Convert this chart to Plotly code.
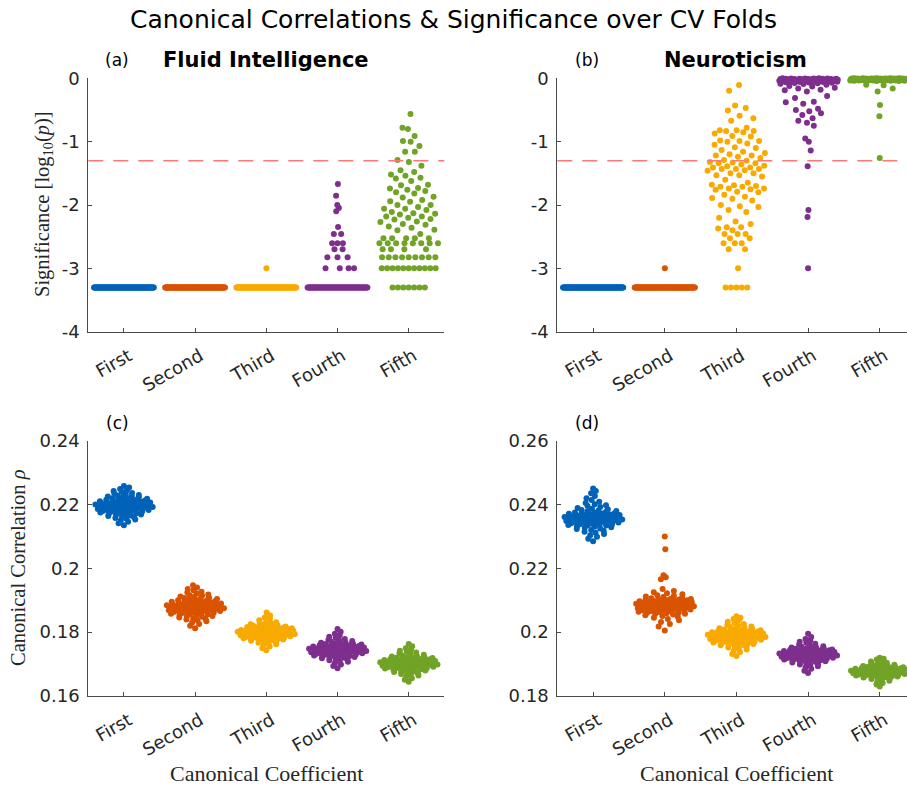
import numpy as np
import plotly.graph_objects as go

# ---------------- data ----------------
CATEGORIES = ["First", "Second", "Third", "Fourth", "Fifth"]
COLORS = ["#0062B8", "#D95300", "#F9AA00", "#7E2F8E", "#70A326"]
SIGNIF_ALPHA = 0.05
FLOOR = -3.301  # log10 of smallest attainable permutation p-value

# (a) Fluid Intelligence: log10(p) per CV fold
FI_LOGP_FIRST = [FLOOR] * 100
FI_LOGP_SECOND = [FLOOR] * 100
FI_LOGP_THIRD = [-3.0] + [FLOOR] * 99
FI_LOGP_FOURTH = [-1.668, -1.854, -2.0, -2.046, -2.097, -2.347, -2.456, -2.456,
                  -2.602, -2.602, -2.602, -2.699, -2.699, -2.824, -2.824, -2.824,
                  -3.0, -3.0, -3.0, -3.0] + [FLOOR] * 80
FI_LOGP_FIFTH = [-0.563, -0.78, -0.80, -0.91, -0.99, -1.0, -1.07, -1.16, -1.16, -1.29,
                 -1.32, -1.38, -1.45, -1.48, -1.52, -1.54, -1.57, -1.58, -1.62, -1.68,
                 -1.69, -1.73, -1.74, -1.76, -1.78, -1.80, -1.82, -1.87, -1.88, -1.92,
                 -1.94, -1.95, -2.0, -2.0, -2.03, -2.06, -2.06, -2.08, -2.11, -2.13,
                 -2.14, -2.15, -2.18, -2.18, -2.2, -2.22, -2.23, -2.26, -2.27, -2.3,
                 -2.31, -2.34, -2.36, -2.39, -2.4, -2.456] \
    + [-2.523] * 5 + [-2.602] * 8 + [-2.699] * 4 + [-2.824] * 9 + [-3.0] * 11 + [FLOOR] * 7

# (b) Neuroticism: log10(p) per CV fold
NE_LOGP_FIRST = [FLOOR] * 100
NE_LOGP_SECOND = [-3.0] + [FLOOR] * 99
NE_LOGP_THIRD = [-0.105, -0.195, -0.43, -0.47, -0.51, -0.59, -0.63, -0.67, -0.78, -0.82,
                 -0.82, -0.83, -0.83, -0.85, -0.87, -0.91, -0.92, -0.98, -0.99, -0.99,
                 -1.0, -1.03, -1.05, -1.09, -1.1, -1.13, -1.16, -1.18, -1.2, -1.22,
                 -1.22, -1.24, -1.26, -1.29, -1.3, -1.32, -1.33, -1.34, -1.34, -1.36,
                 -1.38, -1.39, -1.41, -1.41, -1.43, -1.43, -1.43, -1.45, -1.46, -1.5,
                 -1.5, -1.53, -1.53, -1.55, -1.6, -1.65, -1.68, -1.69, -1.7, -1.71,
                 -1.71, -1.74, -1.74, -1.75, -1.76, -1.79, -1.8, -1.84, -1.87, -1.89,
                 -1.9, -1.93, -2.0, -2.02, -2.03, -2.08, -2.11, -2.2, -2.26, -2.3,
                 -2.35, -2.35, -2.37, -2.398, -2.456, -2.456, -2.456, -2.523, -2.523, -2.602,
                 -2.602, -2.602, -2.699, -2.699, -3.0, FLOOR, FLOOR, FLOOR, FLOOR, FLOOR]
NE_LOGP_FOURTH = [-0.000, -0.002, -0.004, -0.005, -0.006, -0.008, -0.009, -0.010, -0.011, -0.012,
                  -0.013, -0.014, -0.015, -0.016, -0.017, -0.018, -0.019, -0.020, -0.021, -0.022,
                  -0.023, -0.024, -0.025, -0.026, -0.027, -0.028, -0.029, -0.030, -0.031, -0.032,
                  -0.033, -0.034, -0.035, -0.036, -0.037, -0.038, -0.039, -0.040, -0.041, -0.042,
                  -0.043, -0.044, -0.045, -0.046, -0.047, -0.049, -0.051, -0.053, -0.055, -0.057,
                  -0.060, -0.063, -0.066, -0.070, -0.075, -0.080, -0.085, -0.090, -0.001, -0.003,
                  -0.007, -0.012, -0.018, -0.024, -0.031, -0.038, -0.044, -0.052, -0.015, -0.027,
                  -0.035,
                  -0.10, -0.12, -0.13, -0.15, -0.16, -0.18, -0.19, -0.21, -0.28, -0.31,
                  -0.37, -0.38, -0.40, -0.48, -0.50, -0.52, -0.55, -0.58, -0.63, -0.67,
                  -0.70, -0.75, -0.95, -1.0, -1.14, -1.39, -2.08, -2.19, -3.0]
NE_LOGP_FIFTH = [-0.000, -0.001, -0.002, -0.003, -0.004, -0.005, -0.006, -0.007, -0.008, -0.009,
                 -0.010, -0.011, -0.012, -0.013, -0.014, -0.015, -0.016, -0.017, -0.018, -0.019,
                 -0.020, -0.021, -0.022, -0.023, -0.024, -0.025, -0.026, -0.027, -0.028, -0.029,
                 -0.030, -0.031, -0.032, -0.033, -0.034, -0.035, -0.036, -0.037, -0.038, -0.039,
                 -0.040, -0.042, -0.044, -0.001, -0.003, -0.005, -0.007, -0.009, -0.011, -0.013,
                 -0.015, -0.017, -0.019, -0.021, -0.023, -0.025, -0.027, -0.029, -0.031, -0.033,
                 -0.002, -0.004, -0.006, -0.008, -0.010, -0.012, -0.014, -0.016, -0.018, -0.020,
                 -0.022, -0.024, -0.026, -0.028, -0.000, -0.003, -0.006, -0.009, -0.012, -0.015,
                 -0.018, -0.021, -0.024, -0.001, -0.004, -0.007, -0.010, -0.013, -0.016, -0.002,
                 -0.005, -0.008, -0.011,
                 -0.10, -0.11, -0.16, -0.21, -0.42, -0.60, -1.26]

# (c) Fluid Intelligence: canonical correlation per CV fold
FI_RHO_FIRST = [0.2135, 0.2141, 0.2146, 0.2150, 0.2153, 0.2156, 0.2158, 0.2160, 0.2162, 0.2164,
                0.2166, 0.2167, 0.2169, 0.2170, 0.2171, 0.2173, 0.2174, 0.2175, 0.2176, 0.2177,
                0.2178, 0.2179, 0.2180, 0.2181, 0.2182, 0.2183, 0.2183, 0.2184, 0.2185, 0.2186,
                0.2186, 0.2187, 0.2188, 0.2189, 0.2189, 0.2190, 0.2191, 0.2191, 0.2192, 0.2193,
                0.2193, 0.2194, 0.2195, 0.2195, 0.2196, 0.2196, 0.2197, 0.2198, 0.2198, 0.2199,
                0.2200, 0.2200, 0.2201, 0.2202, 0.2202, 0.2203, 0.2204, 0.2204, 0.2205, 0.2206,
                0.2207, 0.2207, 0.2208, 0.2209, 0.2210, 0.2211, 0.2212, 0.2213, 0.2214, 0.2215,
                0.2216, 0.2217, 0.2218, 0.2219, 0.2220, 0.2222, 0.2223, 0.2225, 0.2226, 0.2228,
                0.2230, 0.2232, 0.2234, 0.2236, 0.2239, 0.2242, 0.2245, 0.2249, 0.2253, 0.2258]
FI_RHO_SECOND = [0.1812, 0.1820, 0.1826, 0.1830, 0.1834, 0.1837, 0.1840, 0.1842, 0.1844, 0.1846,
                 0.1848, 0.1850, 0.1851, 0.1853, 0.1854, 0.1856, 0.1857, 0.1858, 0.1859, 0.1860,
                 0.1861, 0.1862, 0.1863, 0.1864, 0.1865, 0.1866, 0.1866, 0.1867, 0.1868, 0.1869,
                 0.1869, 0.1870, 0.1871, 0.1872, 0.1872, 0.1873, 0.1874, 0.1874, 0.1875, 0.1876,
                 0.1876, 0.1877, 0.1878, 0.1878, 0.1879, 0.1880, 0.1880, 0.1881, 0.1882, 0.1882,
                 0.1883, 0.1884, 0.1884, 0.1885, 0.1886, 0.1887, 0.1887, 0.1888, 0.1889, 0.1890,
                 0.1891, 0.1892, 0.1893, 0.1894, 0.1895, 0.1896, 0.1897, 0.1898, 0.1899, 0.1900,
                 0.1901, 0.1902, 0.1904, 0.1905, 0.1907, 0.1908, 0.1910, 0.1912, 0.1914, 0.1916,
                 0.1918, 0.1921, 0.1924, 0.1927, 0.1931, 0.1935, 0.1940, 0.1947]
FI_RHO_THIRD = [0.1743, 0.1750, 0.1755, 0.1759, 0.1762, 0.1765, 0.1767, 0.1769, 0.1771, 0.1773,
                0.1775, 0.1776, 0.1778, 0.1779, 0.1780, 0.1781, 0.1782, 0.1783, 0.1784, 0.1785,
                0.1786, 0.1787, 0.1788, 0.1788, 0.1789, 0.1790, 0.1790, 0.1791, 0.1792, 0.1792,
                0.1793, 0.1794, 0.1794, 0.1795, 0.1795, 0.1796, 0.1797, 0.1797, 0.1798, 0.1798,
                0.1799, 0.1800, 0.1800, 0.1801, 0.1801, 0.1802, 0.1803, 0.1803, 0.1804, 0.1805,
                0.1805, 0.1806, 0.1807, 0.1807, 0.1808, 0.1809, 0.1810, 0.1810, 0.1811, 0.1812,
                0.1813, 0.1814, 0.1815, 0.1816, 0.1817, 0.1818, 0.1819, 0.1820, 0.1822, 0.1823,
                0.1825, 0.1827, 0.1829, 0.1831, 0.1834, 0.1837, 0.1841, 0.1846, 0.1852, 0.1862,
                0.1791, 0.1796, 0.1799, 0.1802, 0.1804, 0.1806, 0.1808, 0.1811, 0.1787, 0.1784,
                0.1779, 0.1813, 0.1817, 0.1777, 0.1794]
FI_RHO_FOURTH = [0.1687, 0.1694, 0.1699, 0.1703, 0.1707, 0.1710, 0.1712, 0.1714, 0.1716, 0.1718,
                 0.1720, 0.1721, 0.1723, 0.1724, 0.1725, 0.1727, 0.1728, 0.1729, 0.1730, 0.1731,
                 0.1732, 0.1733, 0.1734, 0.1735, 0.1735, 0.1736, 0.1737, 0.1738, 0.1738, 0.1739,
                 0.1740, 0.1740, 0.1741, 0.1742, 0.1742, 0.1743, 0.1744, 0.1744, 0.1745, 0.1746,
                 0.1746, 0.1747, 0.1748, 0.1748, 0.1749, 0.1750, 0.1751, 0.1751, 0.1752, 0.1753,
                 0.1754, 0.1754, 0.1755, 0.1756, 0.1757, 0.1758, 0.1759, 0.1760, 0.1761, 0.1762,
                 0.1763, 0.1764, 0.1765, 0.1767, 0.1768, 0.1770, 0.1772, 0.1774, 0.1776, 0.1779,
                 0.1782, 0.1786, 0.1790, 0.1795, 0.1801, 0.1810, 0.1733, 0.1741, 0.1745, 0.1750,
                 0.1726, 0.1738, 0.1747, 0.1753, 0.1757, 0.1736, 0.1743, 0.1749, 0.1722, 0.1760]
FI_RHO_FIFTH = [0.1645, 0.1651, 0.1656, 0.1660, 0.1664, 0.1667, 0.1669, 0.1671, 0.1673, 0.1675,
                0.1677, 0.1678, 0.1680, 0.1681, 0.1683, 0.1684, 0.1685, 0.1686, 0.1687, 0.1688,
                0.1689, 0.1690, 0.1691, 0.1692, 0.1693, 0.1694, 0.1694, 0.1695, 0.1696, 0.1697,
                0.1697, 0.1698, 0.1699, 0.1699, 0.1700, 0.1701, 0.1701, 0.1702, 0.1703, 0.1703,
                0.1704, 0.1705, 0.1705, 0.1706, 0.1707, 0.1707, 0.1708, 0.1709, 0.1710, 0.1710,
                0.1711, 0.1712, 0.1713, 0.1714, 0.1715, 0.1716, 0.1717, 0.1718, 0.1719, 0.1720,
                0.1721, 0.1722, 0.1724, 0.1725, 0.1727, 0.1729, 0.1731, 0.1733, 0.1736, 0.1739,
                0.1742, 0.1746, 0.1750, 0.1756, 0.1763, 0.1693, 0.1700, 0.1704, 0.1708, 0.1712,
                0.1690, 0.1698, 0.1702, 0.1706, 0.1716, 0.1686, 0.1696, 0.1709, 0.1714, 0.1719]

# (d) Neuroticism: canonical correlation per CV fold
NE_RHO_FIRST = [0.2285, 0.2293, 0.2299, 0.2304, 0.2308, 0.2312, 0.2315, 0.2318, 0.2320, 0.2323,
                0.2325, 0.2327, 0.2329, 0.2331, 0.2332, 0.2334, 0.2335, 0.2337, 0.2338, 0.2339,
                0.2341, 0.2342, 0.2343, 0.2344, 0.2345, 0.2346, 0.2347, 0.2348, 0.2349, 0.2350,
                0.2350, 0.2351, 0.2352, 0.2353, 0.2354, 0.2354, 0.2355, 0.2356, 0.2357, 0.2357,
                0.2358, 0.2359, 0.2360, 0.2360, 0.2361, 0.2362, 0.2363, 0.2364, 0.2364, 0.2365,
                0.2366, 0.2367, 0.2368, 0.2369, 0.2370, 0.2371, 0.2372, 0.2373, 0.2374, 0.2375,
                0.2377, 0.2378, 0.2380, 0.2381, 0.2383, 0.2385, 0.2387, 0.2389, 0.2392, 0.2395,
                0.2398, 0.2401, 0.2405, 0.2409, 0.2414, 0.2420, 0.2427, 0.2435, 0.2442, 0.2450,
                0.2340, 0.2346, 0.2352, 0.2356, 0.2359, 0.2363, 0.2368, 0.2336, 0.2372, 0.2348]
NE_RHO_SECOND = [0.2005, 0.2018, 0.2026, 0.2032, 0.2037, 0.2041, 0.2045, 0.2048, 0.2051, 0.2053,
                 0.2055, 0.2057, 0.2059, 0.2061, 0.2062, 0.2064, 0.2065, 0.2067, 0.2068, 0.2069,
                 0.2070, 0.2072, 0.2073, 0.2074, 0.2075, 0.2076, 0.2077, 0.2078, 0.2079, 0.2080,
                 0.2081, 0.2082, 0.2082, 0.2083, 0.2084, 0.2085, 0.2086, 0.2087, 0.2087, 0.2088,
                 0.2089, 0.2090, 0.2091, 0.2091, 0.2092, 0.2093, 0.2094, 0.2095, 0.2096, 0.2097,
                 0.2098, 0.2099, 0.2100, 0.2101, 0.2102, 0.2104, 0.2105, 0.2106, 0.2108, 0.2110,
                 0.2112, 0.2114, 0.2116, 0.2119, 0.2122, 0.2125, 0.2129, 0.2135, 0.2166, 0.2172,
                 0.2178, 0.2260, 0.2300, 0.2071, 0.2079, 0.2086, 0.2093, 0.2066, 0.2084, 0.2097,
                 0.2063, 0.2075, 0.2089, 0.2101, 0.2058, 0.2081, 0.2094, 0.2070, 0.2088, 0.2103]
NE_RHO_THIRD = [0.1925, 0.1932, 0.1938, 0.1942, 0.1946, 0.1949, 0.1952, 0.1955, 0.1957, 0.1959,
                0.1961, 0.1963, 0.1965, 0.1966, 0.1968, 0.1969, 0.1971, 0.1972, 0.1973, 0.1975,
                0.1976, 0.1977, 0.1978, 0.1979, 0.1980, 0.1981, 0.1982, 0.1983, 0.1984, 0.1985,
                0.1985, 0.1986, 0.1987, 0.1988, 0.1988, 0.1989, 0.1990, 0.1991, 0.1991, 0.1992,
                0.1993, 0.1994, 0.1995, 0.1996, 0.1997, 0.1998, 0.1999, 0.2000, 0.2001, 0.2002,
                0.2003, 0.2004, 0.2006, 0.2007, 0.2009, 0.2010, 0.2012, 0.2014, 0.2016, 0.2018,
                0.2020, 0.2023, 0.2026, 0.2029, 0.2033, 0.2037, 0.2041, 0.2045, 0.2050, 0.1974,
                0.1983, 0.1990, 0.1996, 0.2001, 0.1970, 0.1986, 0.1993, 0.2005, 0.1964, 0.1979,
                0.1989, 0.1998, 0.2008, 0.1960, 0.1981, 0.1992, 0.2003, 0.1967, 0.1977, 0.1994]
NE_RHO_FOURTH = [0.1872, 0.1879, 0.1885, 0.1889, 0.1893, 0.1896, 0.1899, 0.1901, 0.1903, 0.1905,
                 0.1907, 0.1909, 0.1910, 0.1912, 0.1913, 0.1914, 0.1916, 0.1917, 0.1918, 0.1919,
                 0.1920, 0.1921, 0.1922, 0.1923, 0.1924, 0.1925, 0.1926, 0.1927, 0.1927, 0.1928,
                 0.1929, 0.1930, 0.1930, 0.1931, 0.1932, 0.1933, 0.1933, 0.1934, 0.1935, 0.1936,
                 0.1937, 0.1938, 0.1939, 0.1940, 0.1941, 0.1942, 0.1943, 0.1944, 0.1945, 0.1946,
                 0.1947, 0.1949, 0.1950, 0.1952, 0.1954, 0.1956, 0.1958, 0.1961, 0.1964, 0.1967,
                 0.1970, 0.1974, 0.1979, 0.1985, 0.1995, 0.1915, 0.1924, 0.1931, 0.1938, 0.1944,
                 0.1911, 0.1921, 0.1928, 0.1935, 0.1948, 0.1919, 0.1926, 0.1933, 0.1941, 0.1953,
                 0.1908, 0.1923, 0.1929, 0.1936, 0.1943, 0.1926, 0.1932, 0.1939, 0.1917, 0.1925]
NE_RHO_FIFTH = [0.1830, 0.1836, 0.1841, 0.1845, 0.1848, 0.1851, 0.1853, 0.1855, 0.1857, 0.1859,
                0.1860, 0.1862, 0.1863, 0.1864, 0.1865, 0.1866, 0.1867, 0.1868, 0.1869, 0.1870,
                0.1871, 0.1872, 0.1873, 0.1874, 0.1874, 0.1875, 0.1876, 0.1876, 0.1877, 0.1878,
                0.1879, 0.1879, 0.1880, 0.1881, 0.1882, 0.1883, 0.1884, 0.1885, 0.1886, 0.1887,
                0.1888, 0.1889, 0.1890, 0.1892, 0.1893, 0.1895, 0.1896, 0.1898, 0.1900, 0.1902,
                0.1904, 0.1906, 0.1908, 0.1911, 0.1914, 0.1917, 0.1920, 0.1866, 0.1871, 0.1877,
                0.1882, 0.1887, 0.1861, 0.1869, 0.1874, 0.1880, 0.1885, 0.1891, 0.1858, 0.1872,
                0.1878, 0.1884, 0.1868, 0.1875, 0.1881, 0.1889, 0.1864, 0.1873, 0.1879, 0.1886,
                0.1870, 0.1876, 0.1883, 0.1862, 0.1877, 0.1890, 0.1867, 0.1874, 0.1880, 0.1894]

FI_LOGP = [FI_LOGP_FIRST, FI_LOGP_SECOND, FI_LOGP_THIRD, FI_LOGP_FOURTH, FI_LOGP_FIFTH]
NE_LOGP = [NE_LOGP_FIRST, NE_LOGP_SECOND, NE_LOGP_THIRD, NE_LOGP_FOURTH, NE_LOGP_FIFTH]
FI_RHO = [FI_RHO_FIRST, FI_RHO_SECOND, FI_RHO_THIRD, FI_RHO_FOURTH, FI_RHO_FIFTH]
NE_RHO = [NE_RHO_FIRST, NE_RHO_SECOND, NE_RHO_THIRD, NE_RHO_FOURTH, NE_RHO_FIFTH]

# ---------------- layout geometry ----------------
W, H = 907, 789
XL_LEFT, XR_LEFT = 88.3, 444.3
XL_RIGHT = 557.3
TOP_T, TOP_B = 78.3, 331.7
BOT_T, BOT_B = 440.7, 696.0
PX_PER_CAT = 71.3
MSIZE = 6


def swarm_x(values, center, y_px_per_unit, max_half=0.42):
    """Deterministic density-based swarm layout (like MATLAB swarmchart)."""
    y = np.asarray(values, float)
    n = len(y)
    ypx = y * y_px_per_unit
    sd = ypx.std()
    bw = max(1.8 * 1.06 * sd * n ** -0.2, 4.0)
    d = np.exp(-0.5 * ((ypx[:, None] - ypx[None, :]) / bw) ** 2).sum(1)
    w = max_half * d / d.max()
    off = np.zeros(n)
    spacing = 0.9 * MSIZE / PX_PER_CAT
    keys = np.round(y, 6)
    _, inv, counts = np.unique(keys, return_inverse=True, return_counts=True)
    order = np.argsort(y, kind="stable")
    rank = np.empty(n, int)
    rank[order] = np.arange(n)
    phi = 0.6180339887
    for gi, m in enumerate(counts):
        idx = np.where(inv == gi)[0]
        need = (m - 1) * spacing / 2
        if m > 1 and need >= 0.5 * w[idx].max():
            half = max(w[idx].max(), min(max_half, need))
            off[idx] = np.linspace(-half, half, m)
        else:
            for i in idx:
                u = 2 * ((rank[i] * phi + 0.5) % 1.0) - 1
                off[i] = u * w[i]
    return center + off


fig = go.Figure()

panels = [
    (FI_LOGP, "x", "y", (TOP_B - TOP_T) / 4.0),
    (NE_LOGP, "x2", "y2", (TOP_B - TOP_T) / 4.0),
    (FI_RHO, "x3", "y3", (BOT_B - BOT_T) / 0.08),
    (NE_RHO, "x4", "y4", (BOT_B - BOT_T) / 0.08),
]
for data, xa, ya, ypu in panels:
    for k, vals in enumerate(data):
        fig.add_trace(go.Scatter(
            x=swarm_x(vals, k + 1, ypu), y=vals, mode="markers",
            marker=dict(size=MSIZE, color=COLORS[k], line=dict(width=0)),
            xaxis=xa, yaxis=ya, showlegend=False, cliponaxis=False,
            hoverinfo="skip"))

axis_common = dict(showline=True, linecolor="#4a4a4a", linewidth=1, ticks="inside",
                   ticklen=4, tickcolor="#4a4a4a", showgrid=False, zeroline=False,
                   tickfont=dict(family="DejaVu Sans", size=18, color="#262626"),
                   mirror=False, automargin=False)

xcat = dict(tickmode="array", tickvals=[1, 2, 3, 4, 5], ticktext=CATEGORIES, tickangle=-30,
            ticklabelshift=5, ticklabelstandoff=6)
ystyle = dict(ticklabelstandoff=4)
top_y = [1 - TOP_B / H, 1 - TOP_T / H]
bot_y = [1 - BOT_B / H, 1 - BOT_T / H]
left_x = [XL_LEFT / W, XR_LEFT / W]
right_x = [XL_RIGHT / W, 1.0]
right_range = [0.5, 0.5 + (W - XL_RIGHT) / 71.65]

sig_ticks = dict(tickmode="array", tickvals=[-4, -3, -2, -1, 0],
                 ticktext=["-4", "-3", "-2", "-1", "0"], range=[-4, 0])

fig.update_layout(
    width=W, height=H, margin=dict(l=0, r=0, t=0, b=0, pad=0, autoexpand=False),
    paper_bgcolor="white", plot_bgcolor="white",
    xaxis=dict(domain=left_x, anchor="y", range=[0.5, 5.5], **xcat, **axis_common),
    yaxis=dict(domain=top_y, anchor="x", **sig_ticks, **ystyle, **axis_common),
    xaxis2=dict(domain=right_x, anchor="y2", range=right_range, **xcat, **axis_common),
    yaxis2=dict(domain=top_y, anchor="x2", **sig_ticks, **ystyle, **axis_common),
    xaxis3=dict(domain=left_x, anchor="y3", range=[0.5, 5.5], **xcat, **axis_common),
    yaxis3=dict(domain=bot_y, anchor="x3", range=[0.16, 0.24], tickmode="array",
                tickvals=[0.16, 0.18, 0.2, 0.22, 0.24],
                ticktext=["0.16", "0.18", "0.2", "0.22", "0.24"], **ystyle, **axis_common),
    xaxis4=dict(domain=right_x, anchor="y4", range=right_range, **xcat, **axis_common),
    yaxis4=dict(domain=bot_y, anchor="x4", range=[0.18, 0.26], tickmode="array",
                tickvals=[0.18, 0.2, 0.22, 0.24, 0.26],
                ticktext=["0.18", "0.2", "0.22", "0.24", "0.26"], **ystyle, **axis_common),
)

# significance threshold lines
for xr, yr in [("x domain", "y"), ("x2 domain", "y2")]:
    fig.add_shape(type="line", xref=xr, yref=yr, x0=0, x1=1,
                  y0=np.log10(SIGNIF_ALPHA), y1=np.log10(SIGNIF_ALPHA),
                  line=dict(color="#FF7878", width=1.5, dash="15px,10px"), layer="above")


def ann(text, px, py, size, family="DejaVu Sans", angle=0, color="#000000"):
    fig.add_annotation(text=text, x=px / W, y=1 - py / H, xref="paper", yref="paper",
                       showarrow=False, xanchor="center", yanchor="middle",
                       textangle=angle, font=dict(family=family, size=size, color=color))


ann("Canonical Correlations &amp; Significance over CV Folds", 453, 20, 25)
ann("<b>Fluid Intelligence</b>", 266, 60, 21)
ann("<b>Neuroticism</b>", 735, 60, 21)
ann("(a)", 117, 60, 17)
ann("(b)", 587, 60, 17)
ann("(c)", 117, 423, 17)
ann("(d)", 587, 423, 17)
ann("Significance [log<sub>10</sub>(<i>p</i>)]", 43, 204, 20.5, "Liberation Serif", -90, "#262626")
ann("Canonical Correlation <i>ρ</i>", 18, 568, 20.5, "Liberation Serif", -90, "#262626")
ann("Canonical Coefficient", 266, 773, 22, "Liberation Serif", 0, "#262626")
ann("Canonical Coefficient", 736, 773, 22, "Liberation Serif", 0, "#262626")

fig.write_html("out.html", config={"displayModeBar": False},
               post_script="document.body.style.margin='0px';"
                           "document.body.style.overflow='hidden';")
